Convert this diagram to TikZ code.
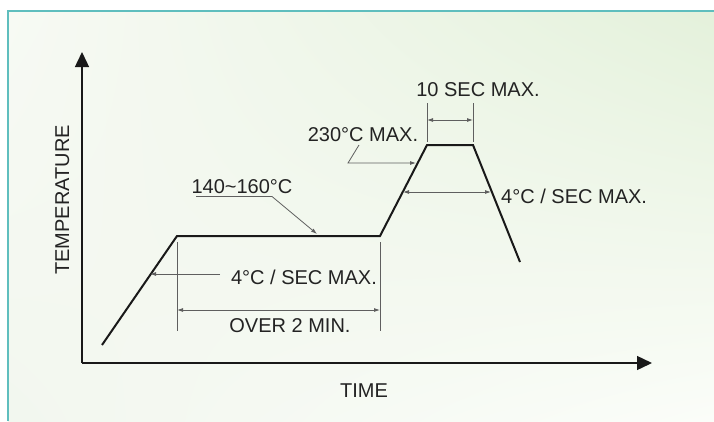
\documentclass[tikz,border=0pt]{standalone}
\usepackage{fontspec}
\setmainfont{Liberation Sans}
\usetikzlibrary{arrows.meta,shadings}
\definecolor{framec}{RGB}{95,190,190}
\definecolor{txt}{RGB}{35,35,35}
\definecolor{dimc}{RGB}{95,95,95}
\definecolor{curvec}{RGB}{25,25,25}
\definecolor{ul}{RGB}{247,250,244}
\definecolor{ur}{RGB}{228,241,219}
\definecolor{ll}{RGB}{242,247,239}
\definecolor{lr}{RGB}{251,253,249}
\begin{document}
\begin{tikzpicture}[x=1pt,y=-1pt,
  lbl/.style={text=txt,font=\fontsize{20}{23}\selectfont,inner sep=0pt},
  axisline/.style={draw=curvec,line width=1.4pt,-{Triangle[length=15pt,width=14pt]}},
  profile/.style={draw=curvec,line width=2pt,line join=miter},
  extline/.style={draw=dimc,line width=0.8pt},
  dimline/.style={draw=dimc,line width=0.8pt,{Latex[length=6pt,width=4pt]}-{Latex[length=6pt,width=4pt]}},
  leader/.style={draw=dimc,line width=0.8pt,-{Latex[length=6pt,width=4pt]}}]
\useasboundingbox (0,0) rectangle (714,421);
\fill[white] (0,0) rectangle (714,421);
\shade[upper left=ul,upper right=ur,lower left=ll,lower right=lr] (8,11) rectangle (714,421);
\draw[framec,line width=1.6pt] (714,11) -- (8,11) -- (8,421);

% axes
\coordinate (o) at (82,363);
\coordinate (ytop) at (82,52);
\coordinate (xend) at (652,363);
\draw[axisline] (o) -- (ytop);
\draw[axisline] (o) -- (xend);
\node[lbl,anchor=base,rotate=90] (ylab) at (69,200) {TEMPERATURE};
\node[lbl,anchor=base] (xlab) at (364,397) {TIME};

% profile
\coordinate (s) at (102,345);
\coordinate (p1) at (177,236);
\coordinate (p2) at (380,236);
\coordinate (t1) at (427,145);
\coordinate (t2) at (473,145);
\coordinate (e) at (520,262);
\draw[profile] (s) -- (p1) -- (p2) -- (t1) -- (t2) -- (e);

% 10 sec max
\coordinate (a1) at (427,103);
\coordinate (a2) at (473,103);
\coordinate (a1b) at (427,142);
\coordinate (a2b) at (473,142);
\draw[extline] (a1) -- (a1b);
\draw[extline] (a2) -- (a2b);
\coordinate (d1) at (427,120);
\coordinate (d2) at (473,120);
\draw[dimline] (d1) -- (d2);
\node[lbl,anchor=base] (tensec) at (478,96) {10 SEC MAX.};

% 230 C max
\node[lbl,anchor=base] (peak) at (363,141) {230\textdegree C MAX.};
\coordinate (l1) at (359,145);
\coordinate (l2) at (348,163);
\coordinate (l3) at (416,163);
\draw[leader] (l1) -- (l2) -- (l3);

% right 4 C/sec
\coordinate (r1) at (403,192);
\coordinate (r2) at (491,192);
\draw[dimline] (r1) -- (r2);
\node[lbl,anchor=base west] (rrate) at (501,203) {4\textdegree C / SEC MAX.};

% 140~160 C
\node[lbl,anchor=base] (soak) at (242,193) {140\textasciitilde 160\textdegree C};
\coordinate (u1) at (196,196.5);
\coordinate (u2) at (272,196.5);
\coordinate (u3) at (317,234);
\draw[leader] (u1) -- (u2) -- (u3);

% left 4 C/sec
\node[lbl,anchor=base] (lrate) at (304,284) {4\textdegree C / SEC MAX.};
\coordinate (h1) at (220,274);
\coordinate (h2) at (150,274);
\draw[leader] (h1) -- (h2);

% over 2 min
\coordinate (v1) at (177,242);
\coordinate (v1b) at (177,331);
\coordinate (v2) at (380,242);
\coordinate (v2b) at (380,331);
\draw[extline] (v1) -- (v1b);
\draw[extline] (v2) -- (v2b);
\coordinate (w1) at (177,310);
\coordinate (w2) at (380,310);
\draw[dimline] (w1) -- (w2);
\node[lbl,anchor=base] (over) at (290,332) {OVER 2 MIN.};
\end{tikzpicture}
\end{document}
